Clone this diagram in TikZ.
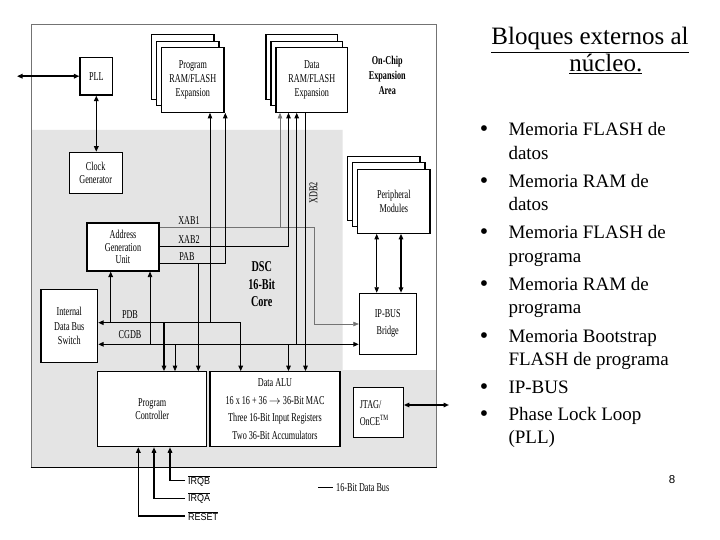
\documentclass[tikz,border=0pt]{standalone}
\usepackage{fontspec}
\setmainfont{Liberation Serif}
\newfontfamily\dg[FakeStretch=0.68]{Liberation Serif}
\newfontfamily\dgsans[FakeStretch=0.9]{Liberation Sans}
\newfontfamily\pgsans{Liberation Sans}
\usetikzlibrary{arrows.meta,calc}
\definecolor{coregray}{RGB}{228,228,228}
\begin{document}
\begin{tikzpicture}[x=1pt,y=-1pt,
  tip/.tip={Triangle[length=5.5pt,width=4.5pt]},
  blk/.style={draw,line width=1.1pt,fill=white,inner sep=1pt,align=center,font=\dg\fontsize{12}{13.5}\selectfont},
  lbl/.style={inner sep=1pt,font=\dg\fontsize{12}{12}\selectfont},
  bus/.style={line width=1.4pt},
  abus/.style={line width=0.8pt},
  xbus/.style={line width=0.6pt,draw=black!55},
  sig/.style={inner xsep=3pt,inner ysep=1pt,anchor=west,font=\dgsans\fontsize{10}{11}\selectfont},
  bul/.style={anchor=base west,inner sep=0pt,align=left,font=\fontsize{19}{23.3}\selectfont},
  dot/.style={anchor=base,inner sep=0pt,font=\fontsize{24}{23.3}\selectfont}]
\useasboundingbox (0,0) rectangle (720,540);
\fill[white] (0,0) rectangle (720,540);
% core region
\fill[coregray] (31.5,130) -- (342.7,130) -- (342.7,370) -- (436,370) -- (436,467.3) -- (31.5,467.3) -- cycle;
\draw[black!55,line width=0.8pt] (31,467.3) -- (31,24.3) -- (436,24.3) -- (436,467.3);
\draw[line width=1.5pt] (30.5,467.3) -- (436.5,467.3);
% boxes
\node[blk,minimum width=32.7pt,minimum height=37.7pt] (PLL) at (96.3,76.2) {PLL};
\node[blk,minimum width=52.7pt,minimum height=41pt] (CLK) at (95.7,172.8) {Clock\\Generator};
\node[blk,minimum width=62.3pt,minimum height=64.6pt] (PR3) at (182.8,67) {};
\node[blk,minimum width=62.3pt,minimum height=64.6pt] (PR2) at (187.8,73.5) {};
\node[blk,minimum width=62.3pt,minimum height=64.6pt,font=\dg\fontsize{12}{14}\selectfont] (PR) at (192.8,80) {Program\\RAM/FLASH\\Expansion};
\node[blk,minimum width=71.7pt,minimum height=64.6pt] (DR3) at (301.8,67) {};
\node[blk,minimum width=71.7pt,minimum height=64.6pt] (DR2) at (306.8,73.5) {};
\node[blk,minimum width=71.7pt,minimum height=64.6pt,font=\dg\fontsize{12}{14}\selectfont] (DR) at (311.8,80) {Data\\RAM/FLASH\\Expansion};
\node[blk,minimum width=72.3pt,minimum height=64pt] (PM3) at (383.8,188.3) {};
\node[blk,minimum width=72.3pt,minimum height=64pt] (PM2) at (388.8,194.8) {};
\node[blk,minimum width=72.3pt,minimum height=64pt] (PM) at (393.8,201.3) {Peripheral\\Modules};
\node[blk,minimum width=72pt,minimum height=48pt,font=\dg\fontsize{12}{12.5}\selectfont] (AGU) at (123,247) {Address\\Generation\\Unit};
\node[blk,minimum width=56.7pt,minimum height=73.3pt,font=\dg\fontsize{12}{14.5}\selectfont] (IDBS) at (69.3,326) {Internal\\Data Bus\\Switch};
\node[blk,minimum width=56.7pt,minimum height=61pt,font=\dg\fontsize{12}{17}\selectfont] (IP) at (387.7,323.8) {IP-BUS\\Bridge};
\node[blk,minimum width=109pt,minimum height=75pt] (PC) at (152.2,409.2) {Program\\Controller};
\node[blk,minimum width=130pt,minimum height=75pt,font=\dg\fontsize{12}{17.5}\selectfont] (ALU) at (275,409.2) {Data ALU\\16 x 16 + 36 $\rightarrow$ 36-Bit MAC\\Three 16-Bit Input Registers\\Two 36-Bit Accumulators};
\node[blk,minimum width=50pt,minimum height=50pt,align=left,font=\dg\fontsize{12}{17}\selectfont] (JTAG) at (378.3,412.7) {JTAG/\\OnCE\textsuperscript{TM}\hspace*{8pt}};
% labels
\node[align=center,font=\dg\bfseries\fontsize{12}{15}\selectfont] (ocea) at (387.3,75) {On-Chip\\Expansion\\Area};
\node[align=center,font=\dg\bfseries\fontsize{15}{17.5}\selectfont] (dsc) at (261.7,284.5) {DSC\\16-Bit\\Core};
\node[lbl,rotate=90] (xdb2) at (313.5,193) {XDB2};
\node[lbl] (lx1) at (189,221) {XAB1};
\node[lbl] (lx2) at (189,239.5) {XAB2};
\node[lbl] (lpab) at (187,256.5) {PAB};
\node[lbl] (lpdb) at (130,314.3) {PDB};
\node[lbl] (lcg) at (130,335) {CGDB};
% coordinates of buses
\coordinate (yX1) at (0,227.7);
\coordinate (yX2) at (0,246.3);
\coordinate (yPAB) at (0,263.3);
\coordinate (yPDB) at (0,322.7);
\coordinate (yCG) at (0,344.3);
\coordinate (yIPx) at (0,324);
\coordinate (yJ) at (0,405);
\coordinate (xA) at (110.7,0);
\coordinate (xB) at (150,0);
\coordinate (xC) at (164,0);
\coordinate (xD) at (175,0);
\coordinate (xE) at (198.3,0);
\coordinate (xF) at (210,0);
\coordinate (xG) at (225.3,0);
\coordinate (xH) at (240.7,0);
\coordinate (xI) at (280,0);
\coordinate (xJ) at (288.5,0);
\coordinate (xK) at (296.7,0);
\coordinate (xL) at (305.5,0);
\coordinate (xM) at (314.7,0);
\coordinate (xN) at (376.7,0);
\coordinate (xO) at (401,0);
\coordinate (ext1) at (17,76.2);
\coordinate (ext2) at (449,405);
% connectors
\draw[xbus,-tip] (AGU.east|-yX1) -- (xM|-yX1) -- (xM|-yIPx) -- (IP.west|-yIPx);
\draw[xbus,-tip] (xI|-yX1) -- (xI|-DR.south);
\draw[abus,-tip] (AGU.east|-yX2) -| (xJ|-DR.south);
\draw[abus,-tip] (AGU.east|-yPAB) -| (xG|-PR.south);
\draw[abus,-tip] (xE|-yPAB) -- (xE|-PC.north);
\draw[abus,-tip] (xF|-yPDB) -- (xF|-PR.south);
\draw[bus,tip-tip] (IDBS.east|-yPDB) -| (xH|-ALU.north);
\draw[bus,-tip] (xA|-yPDB) -- (xA|-AGU.south);
\draw[bus,-tip] (xC|-yPDB) -- (xC|-PC.north);
\draw[bus,tip-tip] (IDBS.east|-yCG) -- (IP.west|-yCG);
\draw[abus,-tip] (xB|-yCG) -- (xB|-AGU.south);
\draw[abus,-tip] (xD|-yCG) -- (xD|-PC.north);
\draw[bus,-tip] (xJ|-yCG) -- (xJ|-ALU.north);
\draw[abus,-tip] (xK|-yCG) -- (xK|-DR.south);
\draw[bus,-tip] (xL|-DR.south) -- (xL|-ALU.north);
\draw[abus,tip-tip] (xN|-PM.south) -- (xN|-IP.north);
\draw[bus,tip-tip] (xO|-PM.south) -- (xO|-IP.north);
\draw[bus,tip-tip] (PLL.west) -- (ext1);
\draw[bus,tip-tip] (PLL.south) -- (PLL.south|-CLK.north);
\draw[bus,tip-tip] (JTAG.east|-yJ) -- (ext2);
% interrupt / reset inputs
\node[sig] (irqb) at (185,480.7) {$\overline{\mbox{IRQB}}$};
\node[sig] (irqa) at (185,498.3) {$\overline{\mbox{IRQA}}$};
\node[sig] (rst) at (185,516) {$\overline{\mbox{RESET}}$};
\coordinate (xR) at (138.3,0);
\coordinate (xQa) at (154,0);
\coordinate (xQb) at (170,0);
\draw[bus,-tip] (irqb.west) -| (xQb|-PC.south);
\draw[bus,-tip] (irqa.west) -| (xQa|-PC.south);
\draw[bus,-tip] (rst.west) -| (xR|-PC.south);
% legend
\coordinate (lg1) at (318.3,487.7);
\coordinate (lg2) at (333,487.7);
\draw[bus] (lg1) -- (lg2);
\node[lbl,anchor=west,inner xsep=3pt] (lgt) at (lg2) {16-Bit Data Bus};
% right-hand text (base anchor = baseline of last line)
\node[anchor=base,inner sep=0pt,font=\fontsize{25}{28}\selectfont] (t1) at (590,45) {\underline{Bloques externos al}};
\node[anchor=base,inner sep=0pt,font=\fontsize{25}{28}\selectfont] (t2) at (605.8,71.7) {\underline{núcleo.}};
\node[dot] (b1) at (484,137) {•};
\node[bul] (i1) at (508.3,159.3) {Memoria FLASH de\\datos};
\node[dot] (b2) at (484,188.5) {•};
\node[bul] (i2) at (508.3,210.8) {Memoria RAM de\\datos};
\node[dot] (b3) at (484,240) {•};
\node[bul] (i3) at (508.3,262.3) {Memoria FLASH de\\programa};
\node[dot] (b4) at (484,291.5) {•};
\node[bul] (i4) at (508.3,313.8) {Memoria RAM de\\programa};
\node[dot] (b5) at (484,343) {•};
\node[bul] (i5) at (508.3,365.3) {Memoria Bootstrap\\FLASH de programa};
\node[dot] (b6) at (484,394.5) {•};
\node[bul] (i6) at (508.3,393.5) {IP-BUS};
\node[dot] (b7) at (484,421.5) {•};
\node[bul] (i7) at (508.3,443.8) {Phase Lock Loop\\(PLL)};
\node[font=\pgsans\fontsize{11.5}{13}\selectfont] (pg) at (672,480) {8};
\end{tikzpicture}
\end{document}
